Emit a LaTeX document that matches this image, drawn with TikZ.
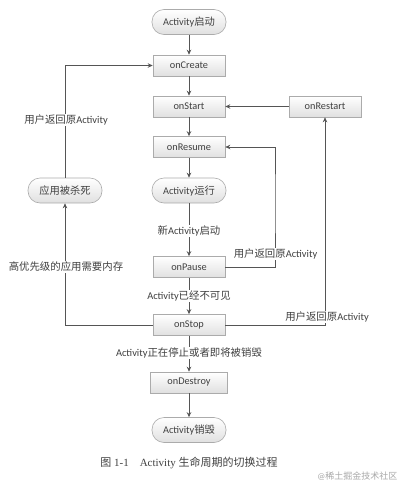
\documentclass[tikz,border=0pt]{standalone}
\usepackage{fontspec}
\setmainfont{Carlito}
\newfontfamily\cjk{Noto Sans CJK SC}
\newfontfamily\capserif{Liberation Serif}
\usetikzlibrary{arrows.meta}
\newcommand{\zh}[1]{{\cjk #1}}
\definecolor{lnc}{HTML}{555555}
\definecolor{txt}{HTML}{404040}
\definecolor{bdr}{HTML}{ABABAB}
\definecolor{bfill}{HTML}{E0E0E0}
\definecolor{wm}{HTML}{A8A8A8}
\begin{document}
\begin{tikzpicture}[x=1pt,y=-1pt,
  box/.style={draw=bdr, line width=0.6pt, top color=white, bottom color=bfill, minimum width=72pt, minimum height=21pt, inner sep=0pt, font=\fontsize{10.3}{12}\selectfont, text=txt},
  pill/.style={box, rounded corners=12pt, minimum width=74pt, minimum height=25pt},
  conn/.style={draw=lnc, line width=0.85pt, -{Stealth[length=5pt,width=4.5pt]}},
  lbl/.style={fill=white, inner sep=1pt, font=\fontsize{10.4}{12}\selectfont, text=txt}]
\useasboundingbox (0,0) rectangle (404,485);
\node[pill] (start) at (189,22) {Activity\zh{启动}};
\node[box] (create) at (189,65.5) {onCreate};
\node[box] (onstart) at (189,106.5) {onStart};
\node[box] (restart) at (325,106.5) {onRestart};
\node[box] (resume) at (189,147) {onResume};
\node[pill] (run) at (189,190.5) {Activity\zh{运行}};
\node[pill] (killed) at (65,190.5) {\zh{应用被杀死}};
\node[box] (pause) at (189,267) {onPause};
\node[box] (stop) at (189,325) {onStop};
\node[box, minimum width=77pt] (destroy) at (189,382.5) {onDestroy};
\node[pill] (gone) at (189,430) {Activity\zh{销毁}};
\coordinate (r1) at (275,200);

\draw[conn] (start) -- (create);
\draw[conn] (create) -- (onstart);
\draw[conn] (onstart) -- (resume);
\draw[conn] (resume) -- (run);
\draw[conn] (run) -- (pause);
\draw[conn] (pause) -- (stop);
\draw[conn] (stop) -- (destroy);
\draw[conn] (destroy) -- (gone);
\draw[conn] (restart) -- (onstart);
\draw[conn] (pause.east) -| (r1) |- (resume.east);
\draw[conn] (stop.east) -| (restart.south);
\draw[conn] (stop.west) -| (killed.south);
\draw[conn] (killed.north) |- (create.west);

\node[lbl] (l1) at (189,231) {\zh{新}Activity\zh{启动}};
\node[lbl] (l2) at (189,296) {Activity\zh{已经不可见}};
\node[lbl] (l3) at (189,353) {Activity\zh{正在停止或者即将被销毁}};
\node[lbl] (l4) at (275.5,254) {\zh{用户返回原}Activity};
\node[lbl] (l5) at (327,317) {\zh{用户返回原}Activity};
\node[lbl] (l6) at (66,267) {\zh{高优先级的应用需要内存}};
\node[lbl] (l7) at (66,120) {\zh{用户返回原}Activity};

\node[font=\fontsize{11}{13}\selectfont, text=txt] (cap) at (189,463) {\zh{图}\capserif\ 1-1\quad Activity \zh{生命周期的切换过程}};
\node[font=\fontsize{9}{11}\selectfont, text=wm, anchor=east] (wmk) at (401,476) {@\zh{稀土掘金技术社区}};
\end{tikzpicture}
\end{document}
